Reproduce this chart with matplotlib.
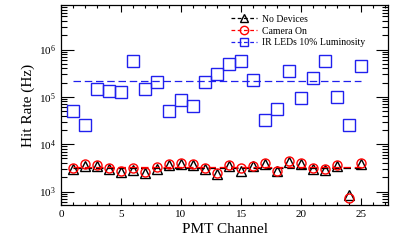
import numpy as np
import matplotlib.pyplot as plt
from matplotlib.ticker import MultipleLocator, LogLocator, NullFormatter

plt.rcParams['font.family'] = ['Liberation Serif', 'DejaVu Serif']
plt.rcParams['mathtext.fontset'] = 'stix'

# rates per PMT channel (Hz)
channels = np.arange(1, 26)
no_devices = [2965, 3540, 3540, 2965, 2602, 2872, 2518, 2965, 3597, 3776, 3597, 3014, 2323,
              3484, 2691, 3484, 3906, 2691, 4236, 3843, 3014, 2918, 3484, 837, 3906]
camera_on = [3214, 3776, 3716, 3163, 2778, 3112, 2602, 3266, 3776, 3972, 3776, 3214, 2518,
             3656, 3163, 3540, 4102, 2778, 4519, 4102, 3163, 3062, 3716, 723, 4102]
ir_leds = [5.0e4, 2.5e4, 1.45e5, 1.32e5, 1.27e5, 5.7e5, 1.5e5, 2.07e5, 5.0e4, 8.5e4, 6.4e4,
           2.1e5, 3.1e5, 5.0e5, 5.7e5, 2.3e5, 3.2e4, 5.5e4, 3.5e5, 9.7e4, 2.45e5, 5.7e5,
           9.8e4, 2.5e4, 4.6e5]
labels = ["No Devices", "Camera On", "IR LEDs 10% Luminosity"]

fig = plt.figure(figsize=(4.09, 2.42), dpi=100)
ax = fig.add_axes([0.149, 0.153, 0.8, 0.826])

series = [(no_devices, 'black', '^', 7),
          (camera_on, 'red', 'o', 6.5),
          (ir_leds, '#2020ee', 's', 8)]
for (vals, col, mk, ms), lab in zip(series, labels):
    mean = np.mean(vals)
    ax.plot([channels[0], channels[-1]], [mean, mean], ls=(0, (6, 3)), color=col, lw=0.9)
    ax.plot(channels, vals, ls='none', marker=mk, ms=ms, mfc='none', mec=col, mew=1.0)
    # legend proxy
    ax.plot([], [], ls=(0, (3, 2)), color=col, lw=0.9, marker=mk, ms=6, mfc='none',
            mec=col, mew=1.0, label=lab)

ax.set_yscale('log')
ax.set_xlim(0, 27.25)
ax.set_ylim(520, 8.7e6)
ax.xaxis.set_major_locator(MultipleLocator(5))
ax.xaxis.set_minor_locator(MultipleLocator(1))
ax.yaxis.set_major_locator(LogLocator(base=10, numticks=10))
ax.yaxis.set_minor_locator(LogLocator(base=10, subs=np.arange(2, 10), numticks=10))
ax.yaxis.set_minor_formatter(NullFormatter())
ax.tick_params(which='both', direction='in', top=True, right=True, labelsize=8, width=0.8)
ax.tick_params(axis='y', which='major', length=9)
ax.tick_params(axis='y', which='minor', length=4.5)
ax.tick_params(axis='x', which='major', length=5)
ax.tick_params(axis='x', which='minor', length=2.5)
for s in ax.spines.values():
    s.set_linewidth(0.9)

ax.set_xlabel("PMT Channel", fontsize=11, labelpad=3)
ax.set_ylabel("Hit Rate (Hz)", fontsize=11, labelpad=3)

handles, labs = ax.get_legend_handles_labels()
ax.legend(handles, labs, loc='upper left', bbox_to_anchor=(0.5, 0.985), frameon=False,
          fontsize=7, handlelength=2.6, handletextpad=0.6, labelspacing=0.28,
          borderaxespad=0.3)

fig.savefig("out.png", dpi=100)
